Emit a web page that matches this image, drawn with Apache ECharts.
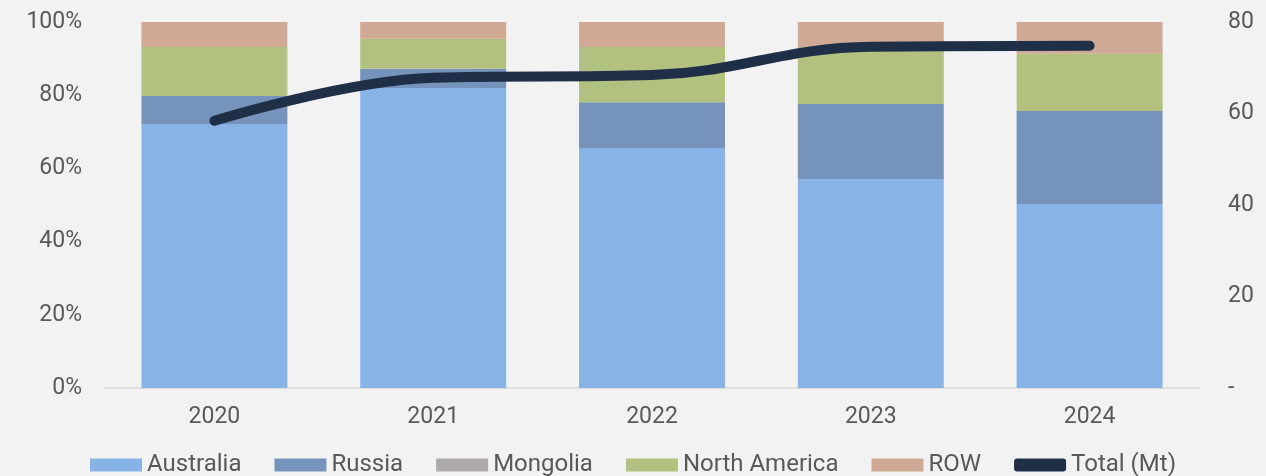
<!DOCTYPE html>
<html>
<head>
<meta charset="utf-8">
<script src="https://cdn.jsdelivr.net/npm/echarts@6/dist/echarts.min.js"></script>
<style>
  html, body { margin: 0; padding: 0; background: #f2f2f2; }
  #main { width: 1266px; height: 476px; }
</style>
</head>
<body>
<div id="main"></div>
<script>
  // shares in %, total in Mt
  const years = ['2020', '2021', '2022', '2023', '2024']
  const australia = [72.1, 82.0, 65.6, 57.1, 50.3]
  const russia = [7.7, 5.2, 12.5, 20.5, 25.4]
  const mongolia = [0, 0, 0, 0, 0]
  const northAmerica = [13.4, 8.2, 15.1, 15.6, 15.6]
  const row = [6.8, 4.6, 6.8, 6.8, 8.7]
  const totalMt = [58.4, 67.8, 68.4, 74.6, 74.8]

  const chart = echarts.init(document.getElementById('main'))

  const labelStyle = {
    color: '#595959',
    fontFamily: 'Roboto',
    fontSize: 23
  }

  function barSeries (name, data, color) {
    return {
      name: name,
      type: 'bar',
      stack: 'share',
      barWidth: '66.7%',
      itemStyle: { color: color },
      data: data
    }
  }

  const option = {
    backgroundColor: '#f2f2f2',
    animation: false,
    grid: {
      left: 105,
      right: 67,
      top: 22,
      bottom: 88
    },
    legend: {
      top: 448,
      left: 'center',
      itemWidth: 52,
      itemHeight: 13,
      itemGap: 33,
      textStyle: {
        color: '#595959',
        fontFamily: 'Roboto',
        fontSize: 24
      },
      data: [
        { name: 'Australia', icon: 'rect' },
        { name: 'Russia', icon: 'rect' },
        { name: 'Mongolia', icon: 'rect' },
        { name: 'North America', icon: 'rect' },
        { name: 'ROW', icon: 'rect' },
        { name: 'Total (Mt)', icon: 'roundRect' }
      ]
    },
    xAxis: {
      type: 'category',
      data: years,
      axisLine: { lineStyle: { color: '#d9d9d9', width: 1.5 } },
      axisTick: { show: false },
      axisLabel: Object.assign({ margin: 18 }, labelStyle)
    },
    yAxis: [
      {
        type: 'value',
        min: 0,
        max: 100,
        interval: 20,
        splitLine: { show: false },
        axisLine: { show: false },
        axisTick: { show: false },
        axisLabel: Object.assign({ margin: 23, formatter: '{value}%' }, labelStyle)
      },
      {
        type: 'value',
        min: 0,
        max: 80,
        interval: 20,
        splitLine: { show: false },
        axisLine: { show: false },
        axisTick: { show: false },
        axisLabel: Object.assign({
          margin: 29,
          formatter: function (v) { return v === 0 ? '-' : String(v) }
        }, labelStyle)
      }
    ],
    series: [
      barSeries('Australia', australia, '#88b3e6'),
      barSeries('Russia', russia, '#7693bb'),
      barSeries('Mongolia', mongolia, '#aeaaaa'),
      barSeries('North America', northAmerica, '#b2c17f'),
      barSeries('ROW', row, '#d0a995'),
      {
        name: 'Total (Mt)',
        type: 'line',
        yAxisIndex: 1,
        smooth: 0.4,
        symbol: 'none',
        lineStyle: { color: '#1f2f47', width: 10, cap: 'round', join: 'round' },
        itemStyle: { color: '#1f2f47' },
        data: totalMt
      }
    ]
  }

  chart.setOption(option)
</script>
</body>
</html>
